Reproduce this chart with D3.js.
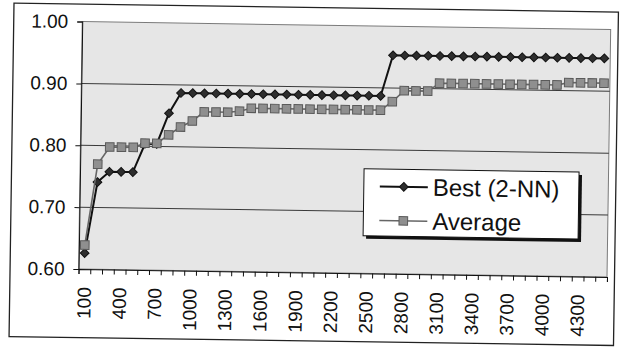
<!DOCTYPE html>
<html>
<head>
<meta charset="utf-8">
<script src="https://cdn.jsdelivr.net/npm/d3@7"></script>
<style>
  html, body { margin: 0; padding: 0; background: #ffffff; }
  svg { display: block; }
  text { font-family: "Liberation Sans", Arial, sans-serif; fill: #111; }
</style>
</head>
<body>
<svg id="chart" width="623" height="349"></svg>
<script>
// ---- data ----
const categories = [100,200,300,400,500,600,700,800,900,1000,1100,1200,1300,1400,1500,1600,1700,1800,1900,2000,2100,2200,2300,2400,2500,2600,2700,2800,2900,3000,3100,3200,3300,3400,3500,3600,3700,3800,3900,4000,4100,4200,4300,4400,4500];
const xTickLabels = [100,400,700,1000,1300,1600,1900,2200,2500,2800,3100,3400,3700,4000,4300];
const bestValues = [0.626,0.741,0.758,0.758,0.758,0.804,0.804,0.854,0.887,0.887,0.887,0.887,0.887,0.887,0.887,0.887,0.887,0.887,0.887,0.887,0.887,0.887,0.887,0.887,0.887,0.887,0.953,0.953,0.953,0.953,0.953,0.953,0.953,0.953,0.953,0.953,0.953,0.953,0.953,0.953,0.953,0.953,0.953,0.953,0.953];
const averageValues = [0.639,0.770,0.798,0.798,0.798,0.805,0.805,0.819,0.832,0.842,0.857,0.857,0.857,0.859,0.864,0.864,0.864,0.864,0.864,0.864,0.864,0.864,0.864,0.864,0.864,0.864,0.878,0.896,0.896,0.896,0.909,0.909,0.909,0.909,0.909,0.909,0.909,0.909,0.909,0.909,0.909,0.913,0.913,0.913,0.913];
const yTicks = [0.60,0.70,0.80,0.90,1.00];
const seriesNames = ["Best (2-NN)", "Average"];

// ---- layout ----
const svg = d3.select("#chart");
const root = svg.append("g").attr("transform", "rotate(0.85,311,174)");

const plot = { left: 80, right: 608.5, top: 25, bottom: 272.5 };

// outer chart border
root.append("rect")
  .attr("x", 11.5).attr("y", 7.5)
  .attr("width", 616 - 11.5).attr("height", 341 - 7.5)
  .attr("fill", "#ffffff").attr("stroke", "#222").attr("stroke-width", 1.3);

const x = d3.scaleBand().domain(categories).range([plot.left, plot.right]).padding(0);
const xIdx = d3.scaleLinear().domain([0, categories.length]).range([plot.left, plot.right]);
const y = d3.scaleLinear().domain([0.6, 1.0]).range([plot.bottom, plot.top]);
const cx = d => x(d) + x.bandwidth() / 2;

// plot area
root.append("rect")
  .attr("x", plot.left).attr("y", plot.top)
  .attr("width", plot.right - plot.left).attr("height", plot.bottom - plot.top)
  .attr("fill", "#e6e6e6").attr("stroke", "#7a7a7a").attr("stroke-width", 1);

// gridlines
root.append("g").selectAll("line")
  .data(yTicks.filter(v => v > 0.6 && v < 1.0))
  .join("line")
  .attr("x1", plot.left).attr("x2", plot.right)
  .attr("y1", d => y(d)).attr("y2", d => y(d))
  .attr("stroke", "#3a3a3a").attr("stroke-width", 1);

// y axis
const yAxis = root.append("g")
  .attr("transform", `translate(${plot.left},0)`)
  .call(d3.axisLeft(y).tickValues(yTicks).tickFormat(d3.format(".2f")).tickSize(5).tickPadding(9));
yAxis.select(".domain").attr("stroke", "#111");
yAxis.selectAll(".tick line").attr("stroke", "#111");
yAxis.selectAll("text").style("font-size", "19px").attr("fill", "#111");

// x axis: tick marks at category boundaries
const xTickAxis = root.append("g")
  .attr("transform", `translate(0,${plot.bottom})`)
  .call(d3.axisBottom(xIdx).tickValues(d3.range(0, categories.length + 1)).tickFormat("").tickSize(5));
xTickAxis.select(".domain").attr("stroke", "#111");
xTickAxis.selectAll(".tick line").attr("stroke", "#111");

// x axis labels at category centres, rotated
const xLabelAxis = root.append("g")
  .attr("transform", `translate(0,${plot.bottom})`)
  .call(d3.axisBottom(x).tickValues(xTickLabels).tickSize(0).tickPadding(0));
xLabelAxis.select(".domain").remove();
xLabelAxis.selectAll("text")
  .style("font-size", "19px")
  .attr("fill", "#111")
  .attr("text-anchor", "end")
  .attr("transform", "translate(0,18) rotate(-90)")
  .attr("x", 0).attr("y", 0).attr("dy", "0.35em");

// series
const line = d3.line().x((d, i) => cx(categories[i])).y(d => y(d));
const diamondSym = d3.symbol().type(d3.symbolSquare).size(38);

// Best (2-NN)
root.append("path").datum(bestValues)
  .attr("d", line).attr("fill", "none")
  .attr("stroke", "#111").attr("stroke-width", 2);
root.append("g").selectAll("path")
  .data(bestValues)
  .join("path")
  .attr("d", diamondSym)
  .attr("transform", (d, i) => `translate(${cx(categories[i])},${y(d)}) rotate(45)`)
  .attr("fill", "#2e2e2e").attr("stroke", "#111").attr("stroke-width", 1);

// Average
root.append("path").datum(averageValues)
  .attr("d", line).attr("fill", "none")
  .attr("stroke", "#666").attr("stroke-width", 1.6);
root.append("g").selectAll("rect")
  .data(averageValues)
  .join("rect")
  .attr("x", (d, i) => cx(categories[i]) - 4.3)
  .attr("y", d => y(d) - 4.3)
  .attr("width", 8.6).attr("height", 8.6)
  .attr("fill", "#8f8f8f").attr("stroke", "#5a5a5a").attr("stroke-width", 1);

// legend
const lg = root.append("g").attr("transform", "translate(364,168)");
const lw = 215, lh = 67;
lg.append("rect").attr("x", 3).attr("y", 3).attr("width", lw).attr("height", lh).attr("fill", "#111");
lg.append("rect").attr("x", 0).attr("y", 0).attr("width", lw).attr("height", lh)
  .attr("fill", "#ffffff").attr("stroke", "#111").attr("stroke-width", 1);

const rows = [
  { name: seriesNames[0], cy: 17.5 },
  { name: seriesNames[1], cy: 51.5 }
];
// row 0: best
lg.append("line").attr("x1", 16).attr("x2", 64).attr("y1", rows[0].cy).attr("y2", rows[0].cy)
  .attr("stroke", "#111").attr("stroke-width", 2);
lg.append("path").attr("d", diamondSym)
  .attr("transform", `translate(40,${rows[0].cy}) rotate(45)`)
  .attr("fill", "#2e2e2e").attr("stroke", "#111");
// row 1: average
lg.append("line").attr("x1", 16).attr("x2", 64).attr("y1", rows[1].cy).attr("y2", rows[1].cy)
  .attr("stroke", "#666").attr("stroke-width", 1.6);
lg.append("rect").attr("x", 35.7).attr("y", rows[1].cy - 4.3).attr("width", 8.6).attr("height", 8.6)
  .attr("fill", "#8f8f8f").attr("stroke", "#5a5a5a");

lg.selectAll("text.lab").data(rows).join("text")
  .attr("class", "lab")
  .attr("x", 69).attr("y", d => d.cy)
  .attr("dy", "0.35em")
  .style("font-size", "24px")
  .text(d => d.name);
</script>
</body>
</html>
